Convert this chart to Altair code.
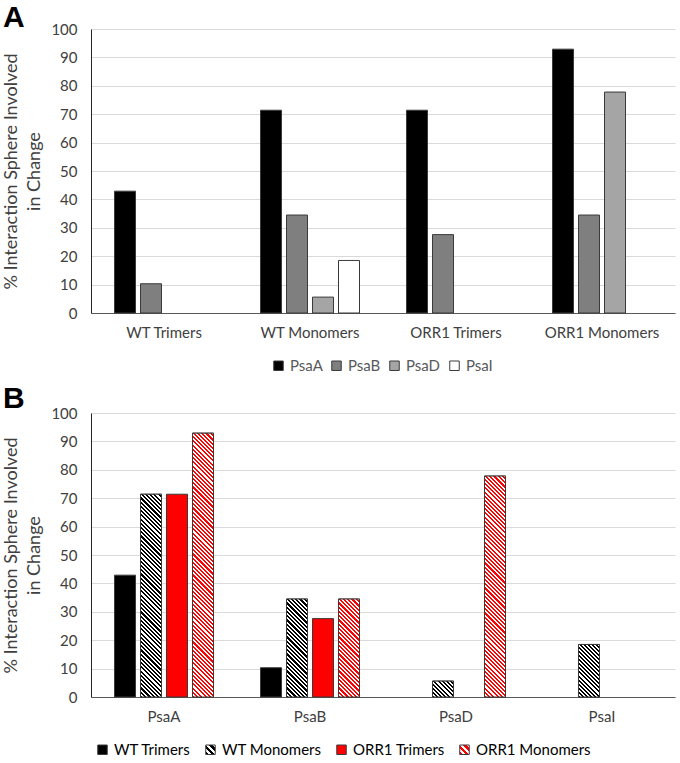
import altair as alt
import pandas as pd

# Samples and PSI subunits
groups = ["WT Trimers", "WT Monomers", "ORR1 Trimers", "ORR1 Monomers"]
proteins = ["PsaA", "PsaB", "PsaD", "PsaI"]

# % of each subunit's interaction sphere involved in change, one value per sample
psaA = [42.9, 71.4, 71.4, 92.9]
psaB = [10.3, 34.5, 27.6, 34.5]
psaD = [0.0, 5.6, 0.0, 77.8]
psaI = [0.0, 18.5, 0.0, 0.0]

protein_colors = ["#000000", "#7f7f7f", "#a5a5a5", "#ffffff"]
hatched = {"WT Monomers": "#000000", "ORR1 Monomers": "#ff0000"}

rows = []
for gi, g in enumerate(groups):
    for p, vals in zip(proteins, [psaA, psaB, psaD, psaI]):
        rows.append({"group": g, "protein": p, "value": vals[gi]})
df = pd.DataFrame(rows)

# layout
PLOT_W = 584
PLOT_H = 284
STEP = PLOT_W / len(groups)
BAR_W = 21
BAR_STEP = 26
PAD_IN = (BAR_STEP - BAR_W) / BAR_STEP
PAD_OUT = (STEP / BAR_STEP - len(proteins) + PAD_IN) / 2
HATCH_PERIOD = 4.2
FONT = "Lato"
INK = "#404040"
EDGE = "#3a3a3a"
Y_TITLE = ["% Interaction Sphere Involved", "in Change"]


def stripe_stops(color, n):
    stops = []
    for k in range(n):
        a, b, c = k / n, (k + 0.5) / n, (k + 1) / n
        stops += [(a, color), (b, color), (b, "#ffffff"), (c, "#ffffff")]
    return stops


def hatch_fill(color, value):
    """45-degree diagonal stripes for a bar of the given value."""
    h = value / 100 * PLOT_H
    w = BAR_W
    s = (w + h) / (w * w + h * h)
    n = max(1, round((w + h) / HATCH_PERIOD))
    return alt.LinearGradient(
        gradient="linear",
        x1=0, y1=1, x2=round(w * s, 5), y2=round(1 - h * s, 5),
        stops=[alt.GradientStop(offset=round(o, 5), color=c) for o, c in stripe_stops(color, n)],
    )


def hatch_expr(color, n=3):
    """Square-symbol stripes, as an expression usable in a scale range."""
    parts = ",".join(f"{{offset:{o:.4f},color:'{c}'}}" for o, c in stripe_stops(color, n))
    return alt.ExprRef(expr=f"{{gradient:'linear',x1:0,y1:1,x2:1,y2:0,stops:[{parts}]}}")


def y_enc():
    return alt.Y(
        "value:Q",
        scale=alt.Scale(domain=[0, 100]),
        axis=alt.Axis(
            values=list(range(0, 101, 10)), title=Y_TITLE, ticks=False,
            domain=True, domainColor="#262626", domainWidth=1,
            grid=True, gridColor="#d9d9d9", gridWidth=1,
            labelFont=FONT, labelFontSize=15, labelColor=INK, labelPadding=14,
            titleFont=FONT, titleFontSize=18, titleFontWeight="normal",
            titleColor=INK, titlePadding=7, titleLineHeight=23,
        ),
    )


def x_enc(field, domain):
    return alt.X(
        f"{field}:N",
        sort=domain,
        scale=alt.Scale(domain=domain, paddingInner=0, paddingOuter=0),
        axis=alt.Axis(
            title=None, labelAngle=0, ticks=False, grid=False,
            domainColor="#595959", domainWidth=1,
            labelFont=FONT, labelFontSize=15, labelColor=INK, labelPadding=12,
        ),
    )


def xoff_enc(field, domain):
    return alt.XOffset(
        f"{field}:N", sort=domain,
        scale=alt.Scale(domain=domain, paddingInner=PAD_IN, paddingOuter=PAD_OUT),
    )


def legend(x, y, color, pad):
    return alt.Legend(
        title=None, orient="none", legendX=x, legendY=y, direction="horizontal",
        columns=4, symbolType="square", symbolSize=90, symbolStrokeColor=EDGE,
        symbolStrokeWidth=1, labelFont=FONT, labelFontSize=15, labelColor=color,
        labelOffset=4, columnPadding=pad,
    )


def panel_title(letter, offset):
    return alt.TitleParams(
        letter, anchor="start", frame="bounds", font="Liberation Sans",
        fontSize=30, fontWeight="bold", color="#000000", offset=offset,
    )


# Panel A: grouped by sample, one bar per subunit
chart_a = (
    alt.Chart(df)
    .transform_filter("datum.value > 0")
    .mark_bar(stroke=EDGE, strokeWidth=1)
    .encode(
        x=x_enc("group", groups),
        xOffset=xoff_enc("protein", proteins),
        y=y_enc(),
        color=alt.Color(
            "protein:N",
            scale=alt.Scale(domain=proteins, range=protein_colors),
            legend=legend(180, 329, "#595959", 6),
        ),
    )
    .properties(width=PLOT_W, height=PLOT_H, title=panel_title("A", -11))
)

# Panel B: grouped by subunit, one bar per sample
series_range = ["#000000", hatch_expr("#000000"), "#ff0000", hatch_expr("#ff0000")]

base_b = (
    alt.Chart()
    .transform_filter("datum.value > 0")
    .mark_bar(stroke=EDGE, strokeWidth=1)
    .encode(
        x=x_enc("protein", proteins),
        xOffset=xoff_enc("group", groups),
        y=y_enc(),
        color=alt.Color(
            "group:N",
            scale=alt.Scale(domain=groups, range=series_range),
            legend=legend(4, 329, "#000000", 12),
        ),
    )
)

stripes = []
for r in rows:
    if r["group"] in hatched and r["value"] > 0:
        stripes.append(
            alt.Chart()
            .transform_filter(
                f"datum.group === '{r['group']}' && datum.protein === '{r['protein']}'"
            )
            .mark_bar(fill=hatch_fill(hatched[r["group"]], r["value"]), stroke=EDGE, strokeWidth=1)
            .encode(
                x=x_enc("protein", proteins),
                xOffset=xoff_enc("group", groups),
                y=y_enc(),
            )
        )

chart_b = alt.layer(base_b, *stripes, data=df).properties(
    width=PLOT_W, height=PLOT_H, title=panel_title("B", -8)
)

chart = (
    alt.vconcat(chart_a, chart_b, spacing=10)
    .resolve_scale(color="independent", x="independent", xOffset="independent")
    .configure_view(stroke=None)
    .properties(padding={"left": 2, "top": 3, "right": 2, "bottom": 0}, background="white")
)

chart.save("out.html", embed_options={"renderer": "svg", "actions": False})
